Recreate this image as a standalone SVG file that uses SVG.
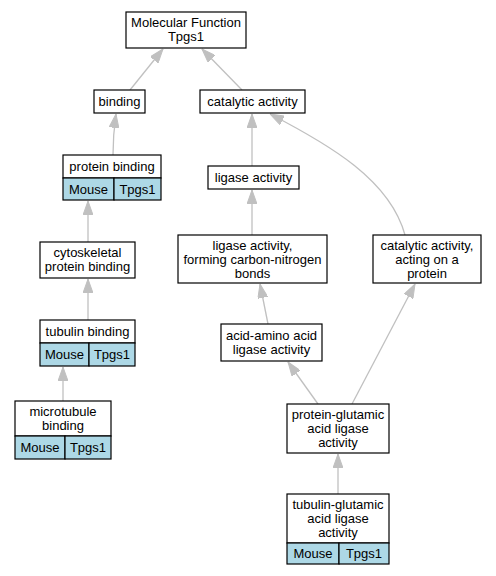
<svg xmlns="http://www.w3.org/2000/svg" width="496" height="576" viewBox="0 0 496 576">
<defs>
<marker id="ah" viewBox="0 0 14 10" refX="14" refY="5" markerWidth="14" markerHeight="10" markerUnits="userSpaceOnUse" orient="auto">
<path d="M0,0 L14,5 L0,10 Z" fill="#c0c0c0" stroke="#c0c0c0"/>
</marker>
</defs>
<style>
rect.n{fill:#fff;stroke:#000;stroke-width:1.2}
rect.c{fill:#add8e6;stroke:#000;stroke-width:1.2}
text{font-family:"Liberation Sans",Arial,sans-serif;font-size:13px;fill:#000;text-anchor:middle}
.e path{fill:none;stroke:#c0c0c0;stroke-width:1.3;marker-end:url(#ah)}
</style>
<rect width="496" height="576" fill="#fff"/>
<g class="e" id="edges">
<path d="M130,90 L163,49"/>
<path d="M242,90 L202,49"/>
<path d="M113,155 C113,140 114,128 116,114"/>
<path d="M252,166 L252,114"/>
<path d="M405,235 C390,180 330,145 270,114"/>
<path d="M88,242 L88,201"/>
<path d="M88,320 L88,279"/>
<path d="M63,401 L63,367"/>
<path d="M252,235 L252,190"/>
<path d="M268,324 L260,284"/>
<path d="M318,404 L288,362"/>
<path d="M352,404 L415,284"/>
<path d="M338,494 L338,454"/>
</g>
<g id="mf">
<rect class="n" x="126" y="12" width="120" height="36"/>
<text x="186" y="27">Molecular Function</text>
<text x="186" y="41">Tpgs1</text>
</g>
<g id="binding">
<rect class="n" x="94" y="90" width="51" height="23"/>
<text x="119.5" y="106">binding</text>
</g>
<g id="catalytic">
<rect class="n" x="200" y="90" width="105" height="23"/>
<text x="252.5" y="106">catalytic activity</text>
</g>
<g id="protein-binding">
<rect class="n" x="63" y="155" width="98" height="23"/>
<rect class="c" x="63" y="178" width="51" height="22"/>
<rect class="c" x="114" y="178" width="47" height="22"/>
<text x="112" y="171">protein binding</text>
<text x="88.5" y="194">Mouse</text>
<text x="137.5" y="194">Tpgs1</text>
</g>
<g id="ligase">
<rect class="n" x="208" y="166" width="91" height="23"/>
<text x="253.5" y="182">ligase activity</text>
</g>
<g id="cytoskeletal">
<rect class="n" x="40" y="242" width="95" height="36"/>
<text x="87.5" y="256.5">cytoskeletal</text>
<text x="87.5" y="270.5">protein binding</text>
</g>
<g id="ligase-cn">
<rect class="n" x="178" y="235" width="149" height="48"/>
<text x="252.5" y="250">ligase activity,</text>
<text x="252.5" y="264">forming carbon-nitrogen</text>
<text x="252.5" y="278">bonds</text>
</g>
<g id="cat-protein">
<rect class="n" x="373" y="235" width="108" height="48"/>
<text x="427" y="250">catalytic activity,</text>
<text x="427" y="264">acting on a</text>
<text x="427" y="278">protein</text>
</g>
<g id="tubulin-binding">
<rect class="n" x="40" y="320" width="95" height="23"/>
<rect class="c" x="40" y="343" width="49" height="23"/>
<rect class="c" x="89" y="343" width="46" height="23"/>
<text x="87.5" y="336">tubulin binding</text>
<text x="64.5" y="359">Mouse</text>
<text x="112" y="359">Tpgs1</text>
</g>
<g id="acid-amino">
<rect class="n" x="221" y="324" width="101" height="37"/>
<text x="271.5" y="340">acid-amino acid</text>
<text x="271.5" y="354">ligase activity</text>
</g>
<g id="microtubule">
<rect class="n" x="15" y="401" width="96" height="35"/>
<rect class="c" x="15" y="436" width="50" height="23"/>
<rect class="c" x="65" y="436" width="46" height="23"/>
<text x="63" y="416">microtubule</text>
<text x="63" y="430">binding</text>
<text x="40" y="452">Mouse</text>
<text x="88" y="452">Tpgs1</text>
</g>
<g id="protein-glutamic">
<rect class="n" x="287" y="404" width="102" height="49"/>
<text x="338" y="419">protein-glutamic</text>
<text x="338" y="433">acid ligase</text>
<text x="338" y="447">activity</text>
</g>
<g id="tubulin-glutamic">
<rect class="n" x="287" y="494" width="102" height="49"/>
<rect class="c" x="287" y="543" width="52" height="21"/>
<rect class="c" x="339" y="543" width="50" height="21"/>
<text x="338" y="509">tubulin-glutamic</text>
<text x="338" y="523">acid ligase</text>
<text x="338" y="537">activity</text>
<text x="313" y="558">Mouse</text>
<text x="364" y="558">Tpgs1</text>
</g>
</svg>
